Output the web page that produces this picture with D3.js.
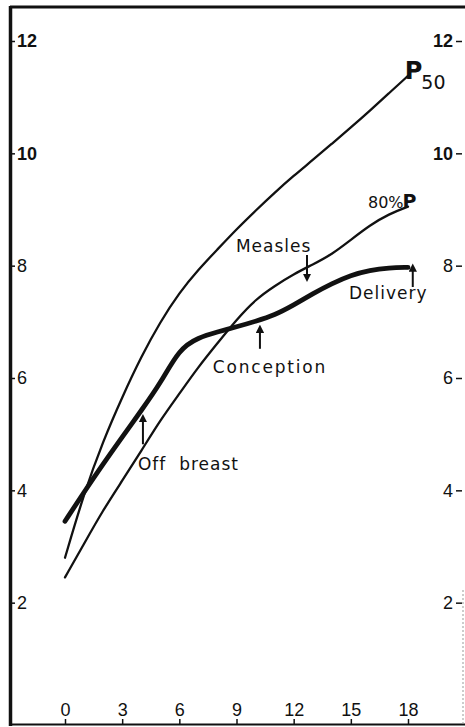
<!DOCTYPE html>
<meta charset="utf-8">
<style>
body {
    margin: 0;
    background: #fff;
    font-family: "DejaVu Sans", sans-serif;
}
.tick text {
    font-size: 18px;
    fill: #111;
}
.big text {
    font-weight: bold;
}
.note {
    font-size: 17px;
    letter-spacing: 1px;
    fill: #111;
}
.curve {
    fill: none;
    stroke: #111;
    stroke-linejoin: round;
    stroke-linecap: round;
}
</style>
<body>
<script src="https://d3js.org/d3.v7.min.js"></script>
<script>
var width = 465,
    height = 727;

// age in months
var months = [0, 1, 2, 3, 4, 5, 6, 7, 8, 9, 10, 11, 12, 13, 14, 15, 16, 17, 18];
// weight, kg
var p50     = [2.8, 3.95, 4.88, 5.66, 6.38, 7.0, 7.52, 7.93, 8.29, 8.65, 8.98, 9.3, 9.6, 9.88, 10.17, 10.46, 10.76, 11.07, 11.38];
var p80     = [2.45, 3.05, 3.65, 4.17, 4.7, 5.25, 5.72, 6.2, 6.62, 7.04, 7.4, 7.64, 7.85, 8.02, 8.2, 8.46, 8.72, 8.92, 9.05];
var child   = [3.45, 3.97, 4.47, 4.95, 5.42, 5.9, 6.52, 6.72, 6.82, 6.91, 7.01, 7.12, 7.3, 7.5, 7.68, 7.83, 7.92, 7.96, 7.97];

var xTicks = [0, 3, 6, 9, 12, 15, 18];
var yTicks = [2, 4, 6, 8, 10, 12];

var x = d3.scaleLinear().domain([0, 18]).range([65, 408]);
var y = d3.scaleLinear().domain([0, 12]).range([715, 41]);

var svg = d3.select("body").append("svg")
    .attr("width", width)
    .attr("height", height);

svg.append("defs").append("marker")
    .attr("id", "head")
    .attr("viewBox", "0 0 10 10")
    .attr("refX", 4).attr("refY", 5)
    .attr("markerWidth", 4.2).attr("markerHeight", 4.2)
    .attr("orient", "auto")
  .append("path")
    .attr("d", "M0,0L10,5L0,10z")
    .attr("fill", "#111");

// frame
svg.append("line").attr("x1", 10.5).attr("x2", 10.5).attr("y1", 6).attr("y2", 726)
    .attr("stroke", "#111").attr("stroke-width", 3.5);
svg.append("line").attr("x1", 10).attr("x2", 465).attr("y1", 7).attr("y2", 7)
    .attr("stroke", "#111").attr("stroke-width", 3);
svg.append("line").attr("x1", 10).attr("x2", 465).attr("y1", 724.5).attr("y2", 724.5)
    .attr("stroke", "#111").attr("stroke-width", 2);
svg.append("line").attr("x1", 463).attr("x2", 463).attr("y1", 590).attr("y2", 724)
    .attr("stroke", "#999").attr("stroke-width", 1).attr("stroke-dasharray", "2,2");

// axes
var xAxis = svg.append("g")
    .attr("transform", "translate(0,724)")
    .call(d3.axisTop(x).tickValues(xTicks).tickSize(5).tickPadding(3));
xAxis.select(".domain").remove();

var yLeft = svg.append("g")
    .attr("class", "yaxis")
    .attr("transform", "translate(12,0)")
    .call(d3.axisRight(y).tickValues(yTicks).tickSize(3).tickPadding(2));
yLeft.select(".domain").remove();

var yRight = svg.append("g")
    .attr("class", "yaxis")
    .attr("transform", "translate(462,0)")
    .call(d3.axisLeft(y).tickValues(yTicks).tickSize(6).tickPadding(3));
yRight.select(".domain").remove();

svg.selectAll(".tick line").attr("stroke", "#111").attr("stroke-width", 1.5);
svg.selectAll(".yaxis .tick").filter(function(d) { return d >= 10; })
    .classed("big", true);

// curves
var line = d3.line()
    .x(function(d) { return x(d[0]); })
    .y(function(d) { return y(d[1]); })
    .curve(d3.curveBasis);

function pairs(vals) {
    return months.map(function(m, i) { return [m, vals[i]]; });
}

svg.append("path").attr("class", "curve").attr("d", line(pairs(p50)))
    .attr("stroke-width", 2.3);
svg.append("path").attr("class", "curve").attr("d", line(pairs(p80)))
    .attr("stroke-width", 2.3);
svg.append("path").attr("class", "curve").attr("d", line(pairs(child)))
    .attr("stroke-width", 4.8);

// event arrows: month, tail value, head value
var arrows = [
    [12.7, 8.19, 7.8],
    [18.25, 7.62, 7.95],
    [10.23, 6.52, 6.86],
    [4.09, 4.82, 5.27]
];
svg.selectAll(".arrow")
    .data(arrows)
    .enter().append("line")
    .attr("class", "arrow")
    .attr("x1", function(d) { return x(d[0]); })
    .attr("x2", function(d) { return x(d[0]); })
    .attr("y1", function(d) { return y(d[1]); })
    .attr("y2", function(d) { return y(d[2]); })
    .attr("stroke", "#111")
    .attr("stroke-width", 2)
    .attr("marker-end", "url(#head)");

// labels: text, month, value
var notes = [
    ["Measles", 8.97, 8.25],
    ["Delivery", 14.9, 7.41],
    ["Conception", 7.76, 6.09],
    ["Off  breast", 3.83, 4.36]
];
svg.selectAll(".note")
    .data(notes)
    .enter().append("text")
    .attr("class", "note")
    .attr("x", function(d) { return x(d[1]); })
    .attr("y", function(d) { return y(d[2]); })
    .attr("xml:space", "preserve")
    .style("letter-spacing", function(d) { return d[0] === "Conception" ? "1.8px" : null; })
    .text(function(d) { return d[0]; });

var p80Label = svg.append("text")
    .attr("x", x(15.9)).attr("y", y(9.03))
    .attr("fill", "#111");
p80Label.append("tspan").attr("font-size", 16).text("80%");
p80Label.append("tspan").attr("font-size", 19).attr("font-weight", "bold").attr("dx", -1).text("P");

var p50Label = svg.append("text")
    .attr("x", x(17.83)).attr("y", y(11.33))
    .attr("fill", "#111");
p50Label.append("tspan").attr("font-size", 24).attr("font-weight", "bold").text("P");
p50Label.append("tspan").attr("font-size", 19).attr("dy", 10).attr("dx", -1).text("50");
</script>
</body>
